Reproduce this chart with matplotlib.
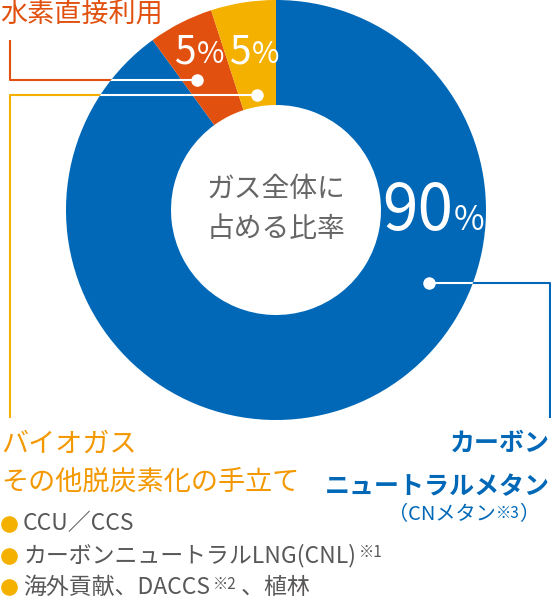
import matplotlib.pyplot as plt
from matplotlib.patches import Circle

plt.rcParams['font.family'] = ['Noto Sans CJK JP', 'DejaVu Sans']

# shares of the gas total, clockwise from 12 o'clock
shares = [90, 5, 5]
share_text = ['90', '5', '5']
colors = ['#0068b7', '#e1500f', '#f5b100']

center_lines = ['ガス全体に', '占める比率']
h2_label = '水素直接利用'
bio_lines = ['バイオガス', 'その他脱炭素化の手立て']
cn_lines = ['カーボン', 'ニュートラルメタン']
cn_sub = ['（CNメタン', '※3', '）']
bullets = ['CCU／CCS', 'カーボンニュートラルLNG(CNL)', '海外貢献、DACCS']
bullet_notes = ['', '※1', '※2']
bullet_tails = ['', '', ' 、植林']

blue, red, yellow = colors
orange = '#f39800'
gray = '#595757'

W, H = 551, 600
cx, cy, R = 276, 210, 210

fig = plt.figure(figsize=(W / 100, H / 100), dpi=100)
ax = fig.add_axes([0, 0, 1, 1])

# y axis runs downward, so counterclock=True draws clockwise on screen
wedges, _ = ax.pie(shares, colors=colors, startangle=-90, counterclock=True,
                   center=(cx, cy), radius=R,
                   wedgeprops=dict(width=R / 2, linewidth=0, zorder=2))
ax.set_xlim(0, W)
ax.set_ylim(H, 0)
ax.set_aspect('equal')
ax.axis('off')

# leader lines: coloured outside the ring, white on top of it
leaders = [
    ([197, 10, 10], [80, 80, 40], red),
    ([257, 10, 10], [95, 95, 418], yellow),
    ([429, 550, 550], [283, 283, 418], blue),
]
ring = Circle((cx, cy), R, transform=ax.transData)
for xs, ys, c in leaders:
    ax.plot(xs, ys, color=c, lw=1.5, zorder=1, solid_capstyle='butt')
    wl, = ax.plot(xs, ys, color='white', lw=1.5, zorder=3, solid_capstyle='butt')
    wl.set_clip_path(ring)
    ax.plot(xs[0], ys[0], 'o', color='white', ms=9, mec='none', zorder=4)

# percentage labels (big number, small %)
pct_pos = [(453, 230, 46, 24), (196, 63, 28, 21.5), (251, 63, 28, 21.5)]
for txt, (x, y, s1, s2) in zip(share_text, pct_pos):
    ax.text(x, y, txt, ha='right', va='baseline', fontsize=s1, color='white',
            zorder=5)
    ax.text(x + 1, y, '%', ha='left', va='baseline', fontsize=s2, color='white',
            zorder=5)

for i, line in enumerate(center_lines):
    ax.text(cx, 189 + 40 * i, line, ha='center', va='center', fontsize=20,
            color='#666666', zorder=5)

ax.text(0, 15, h2_label, ha='left', va='center', fontsize=19.5, color=red)

for i, line in enumerate(bio_lines):
    ax.text(1, 444 + 38 * i, line, ha='left', va='center', fontsize=19.5,
            color=orange)

for i, line in enumerate(cn_lines):
    ax.text(550, 444 + 43 * i, line, ha='right', va='center', fontsize=18,
            color=blue, fontweight='bold')

t = ax.text(388, 515, cn_sub[0], ha='left', va='center', fontsize=14.5, color=blue)
n = ax.annotate(cn_sub[1], xy=(1, 1), xycoords=t, ha='left', va='top',
                fontsize=11, color=blue)
ax.annotate(cn_sub[2], xy=(1, 0.5), xycoords=(n, t), ha='left', va='center',
            fontsize=14.5, color=blue)

bullet_y = [524, 556, 587]
ax.plot([8.5] * len(bullet_y), bullet_y, 'o', color=yellow, ms=12, mec='none')
for y, main, note, tail in zip(bullet_y, bullets, bullet_notes, bullet_tails):
    t = ax.text(23, y, main, ha='left', va='center', fontsize=16.5, color=gray)
    if note:
        n = ax.annotate(note, xy=(1, 1), xycoords=t, xytext=(2, 0),
                        textcoords='offset points', ha='left', va='top',
                        fontsize=11, color=gray)
        if tail:
            ax.annotate(tail, xy=(1, 0.5), xycoords=(n, t), ha='left',
                        va='center', fontsize=16.5, color=gray)

fig.savefig('out.png', dpi=100)
